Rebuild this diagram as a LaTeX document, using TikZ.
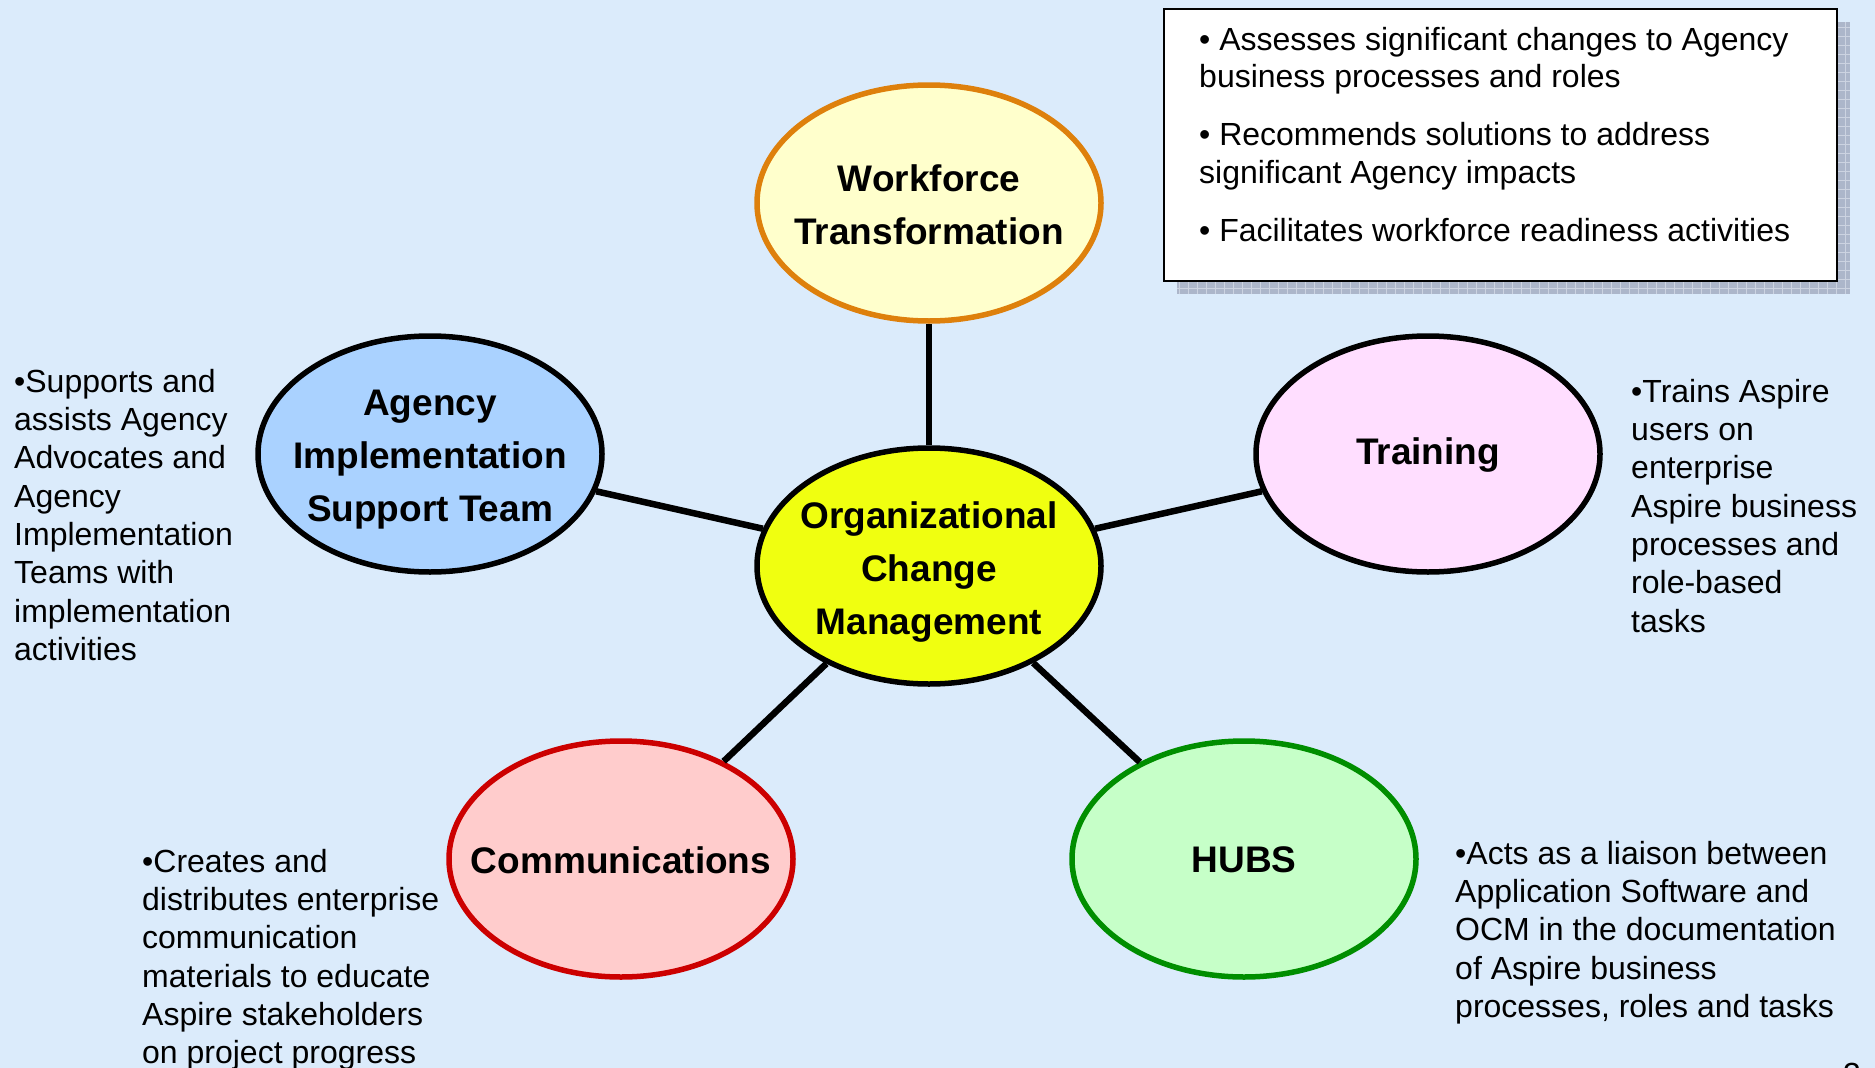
\documentclass[tikz,border=0pt]{standalone}
\usepackage{fontspec}
\setmainfont{Liberation Sans}
\usetikzlibrary{shapes.geometric}

\definecolor{bgblue}{RGB}{219,235,251}
\definecolor{ocmfill}{RGB}{240,255,16}
\definecolor{wffill}{RGB}{255,255,204}
\definecolor{wfline}{RGB}{222,128,12}
\definecolor{agfill}{RGB}{170,210,255}
\definecolor{trfill}{RGB}{255,222,255}
\definecolor{cmfill}{RGB}{255,204,204}
\definecolor{cmline}{RGB}{204,0,0}
\definecolor{hbfill}{RGB}{198,255,200}
\definecolor{hbline}{RGB}{0,142,0}
\definecolor{shadowfill}{RGB}{172,182,202}
\definecolor{shadowgrid}{RGB}{204,211,225}

\begin{document}
\begin{tikzpicture}[x=1pt,y=1pt,
  bubble/.style={ellipse, draw=black, line width=5.5pt,
    minimum width=344pt, minimum height=236pt, inner sep=0pt},
  bubbletext/.style={inner sep=0pt, align=center, yshift=-3pt,
    font=\fontsize{37}{53}\selectfont\bfseries},
  spoke/.style={line width=6.5pt, black},
  note/.style={anchor=north west, inner sep=0pt, align=left,
    font=\fontsize{32}{38.3}\selectfont},
  boxnote/.style={note, font=\fontsize{32}{37.3}\selectfont}]

% page background
\fill[bgblue] (0,0) rectangle (1875,-1068);
\useasboundingbox (0,0) rectangle (1875,-1068);

% call-out box with hatched drop shadow
\begin{scope}
  \clip (1177,-22) rectangle (1850,-294);
  \fill[shadowfill] (1177,-22) rectangle (1850,-294);
  \draw[shadowgrid, line width=1pt, step=9] (1177,-294) grid (1850,-22);
\end{scope}
\node[draw=black, fill=white, line width=2pt, minimum width=673pt,
  minimum height=272pt, inner sep=0pt, anchor=north west]
  (callout) at (1163,-8) {};
\node[boxnote] (callouttext) at (1199,-27)
  {• Assesses significant changes to Agency\\
   business processes and roles\\[21pt]
   • Recommends solutions to address\\
   significant Agency impacts\\[21pt]
   • Facilitates workforce readiness activities};

% bubbles
\node[bubble, fill=ocmfill] (ocm) at (929,-566) {};
\node[bubble, fill=wffill, draw=wfline] (wft) at (929,-203) {};
\node[bubble, fill=agfill] (agency) at (430,-454) {};
\node[bubble, fill=trfill] (training) at (1428,-454) {};
\node[bubble, fill=cmfill, draw=cmline] (comm) at (621,-859) {};
\node[bubble, fill=hbfill, draw=hbline] (hubs) at (1244,-859) {};

% bubble captions
\node[bubbletext, yshift=-3pt] (ocmlabel) at (ocm) {Organizational\\Change\\Management};
\node[bubbletext, yshift=1pt] (wftlabel) at (wft) {Workforce\\Transformation};
\node[bubbletext, yshift=-3pt] (agencylabel) at (agency) {Agency\\Implementation\\Support Team};
\node[bubbletext, yshift=2pt] (traininglabel) at (training) {Training};
\node[bubbletext, yshift=2pt] (commlabel) at (comm) {Communications};
\node[bubbletext, yshift=2pt] (hubslabel) at (hubs) {HUBS};

% spokes from the hub
\draw[spoke] (ocm) -- (wft);
\draw[spoke] (ocm) -- (agency);
\draw[spoke] (ocm) -- (training);
\draw[spoke] (ocm) -- (comm);
\draw[spoke] (ocm) -- (hubs);

% descriptions
\node[note] (agencytext) at (14,-369)
  {•Supports and\\assists Agency\\Advocates and\\Agency\\Implementation\\Teams with\\implementation\\activities};
\node[note] (trainingtext) at (1631,-379)
  {•Trains Aspire\\users on\\enterprise\\Aspire business\\processes and\\role-based\\tasks};
\node[note] (commtext) at (142,-849)
  {•Creates and\\distributes enterprise\\communication\\materials to educate\\Aspire stakeholders\\on project progress};
\node[note] (hubstext) at (1455,-841)
  {•Acts as a liaison between\\Application Software and\\OCM in the documentation\\of Aspire business\\processes, roles and tasks};

% page number
\node[anchor=north, inner sep=0pt, font=\fontsize{32}{38}\selectfont]
  (pagenum) at (1852,-1063) {3};
\end{tikzpicture}
\end{document}
